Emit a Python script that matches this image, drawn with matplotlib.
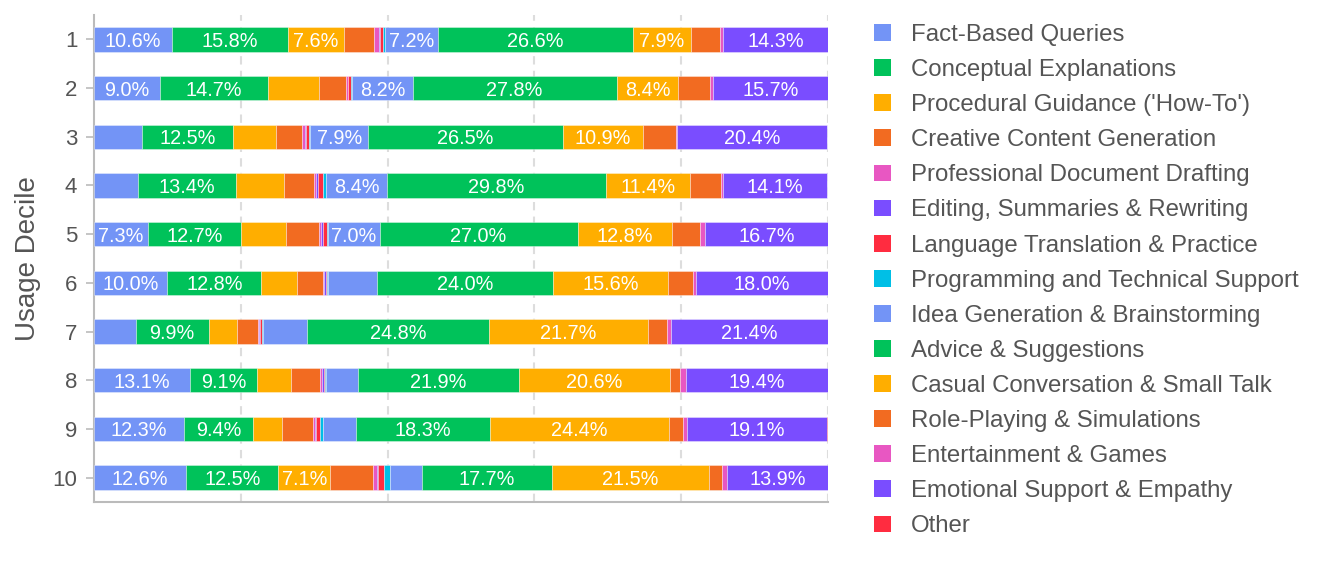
import matplotlib
matplotlib.use("Agg")
import matplotlib.pyplot as plt
from matplotlib.patches import Patch
import numpy as np

plt.rcParams["font.family"] = ["Liberation Sans", "DejaVu Sans"]

deciles = [str(i) for i in range(1, 11)]

categories = [
    "Fact-Based Queries",
    "Conceptual Explanations",
    "Procedural Guidance ('How-To')",
    "Creative Content Generation",
    "Professional Document Drafting",
    "Editing, Summaries & Rewriting",
    "Language Translation & Practice",
    "Programming and Technical Support",
    "Idea Generation & Brainstorming",
    "Advice & Suggestions",
    "Casual Conversation & Small Talk",
    "Role-Playing & Simulations",
    "Entertainment & Games",
    "Emotional Support & Empathy",
    "Other",
]

# share (%) per decile 1..10
fact_based = [10.6, 9.0, 6.5, 6.0, 7.3, 10.0, 5.7, 13.1, 12.3, 12.6]
conceptual = [15.8, 14.7, 12.5, 13.4, 12.7, 12.8, 9.9, 9.1, 9.4, 12.5]
procedural = [7.6, 6.9, 5.8, 6.5, 6.1, 4.8, 3.9, 4.6, 3.9, 7.1]
creative = [4.1, 3.8, 3.5, 4.1, 4.5, 3.6, 2.9, 4.0, 4.2, 5.8]
professional = [0.7, 0.15, 0.45, 0.2, 0.3, 0.15, 0.1, 0.3, 0.3, 0.55]
editing = [0.1, 0.1, 0.1, 0.35, 0.3, 0.2, 0.05, 0.2, 0.2, 0.2]
translation = [0.45, 0.35, 0.45, 0.7, 0.6, 0.15, 0.35, 0.2, 0.45, 0.8]
programming = [0.3, 0.2, 0.15, 0.3, 0.1, 0.15, 0.1, 0.15, 0.45, 0.8]
idea_gen = [7.2, 8.2, 7.9, 8.4, 7.0, 6.7, 6.0, 4.3, 4.45, 4.3]
advice = [26.6, 27.8, 26.5, 29.8, 27.0, 24.0, 24.8, 21.9, 18.3, 17.7]
casual = [7.9, 8.4, 10.9, 11.4, 12.8, 15.6, 21.7, 20.6, 24.4, 21.5]
role_play = [3.9, 4.3, 4.5, 4.3, 3.9, 3.4, 2.5, 1.45, 1.9, 1.7]
entertainment = [0.45, 0.45, 0.2, 0.3, 0.7, 0.45, 0.55, 0.7, 0.55, 0.65]
emotional = [14.3, 15.7, 20.4, 14.1, 16.7, 18.0, 21.4, 19.4, 19.1, 13.9]
other = [0.1, 0.05, 0.05, 0.05, 0.05, 0.05, 0.1, 0.05, 0.1, 0.05]

series = [fact_based, conceptual, procedural, creative, professional, editing,
          translation, programming, idea_gen, advice, casual, role_play,
          entertainment, emotional, other]

BLUE, GREEN, ORANGE, DORANGE = "#7394f6", "#00c25a", "#ffae00", "#f26b21"
PINK, PURPLE, RED, CYAN = "#e857c2", "#7a4dff", "#ff2c40", "#00bfe6"
colors = [BLUE, GREEN, ORANGE, DORANGE, PINK, PURPLE, RED, CYAN,
          BLUE, GREEN, ORANGE, DORANGE, PINK, PURPLE, RED]

fig = plt.figure(figsize=(13.29, 5.61), dpi=100)
ax = fig.add_axes([94 / 1329, 59 / 561, 734 / 1329, 487 / 561])

y = np.arange(1, 11)
left = np.zeros(10)
for name, vals, col in zip(categories, series, colors):
    vals = np.array(vals)
    bars = ax.barh(y, vals, left=left, height=0.5, color=col,
                   edgecolor=(1, 1, 1, 0.5), linewidth=0.5, zorder=3, label=name)
    labels = [f"{v:.1f}%" if v >= 7 else "" for v in vals]
    txts = ax.bar_label(bars, labels=labels, label_type="center", color="white",
                        fontsize=14.3, zorder=4)
    for t in txts:
        t.set_va("center_baseline")
    left += vals

ax.set_xlim(0, 100)
ax.set_ylim(10.5, 0.5)
ax.set_yticks(y)
ax.set_yticklabels(deciles)
ax.set_xticks([20, 40, 60, 80, 100])
ax.set_xticklabels([])
ax.tick_params(axis="x", length=0)
ax.tick_params(axis="y", length=6, color="#bbbbbb", width=1.2,
               labelsize=16, labelcolor="#555555", pad=6)
ax.grid(axis="x", color="#dddddd", linestyle=(0, (4, 3)), linewidth=1.5, zorder=0)
for side in ("top", "right"):
    ax.spines[side].set_visible(False)
for side in ("left", "bottom"):
    ax.spines[side].set_color("#bbbbbb")
    ax.spines[side].set_linewidth(1.5)
ax.set_ylabel("Usage Decile", fontsize=20, color="#555555", labelpad=8)

handles = [Patch(facecolor=c, edgecolor="none") for c in colors]
fig.legend(handles, categories, loc="upper left", bbox_to_anchor=(874 / 1329, 1 - 24 / 561),
           frameon=False, fontsize=17.3, labelcolor="#555555",
           handlelength=0.7, handleheight=0.7, handletextpad=0.82,
           labelspacing=0.545, borderpad=0, borderaxespad=0)

fig.savefig("out.png", dpi=100)
